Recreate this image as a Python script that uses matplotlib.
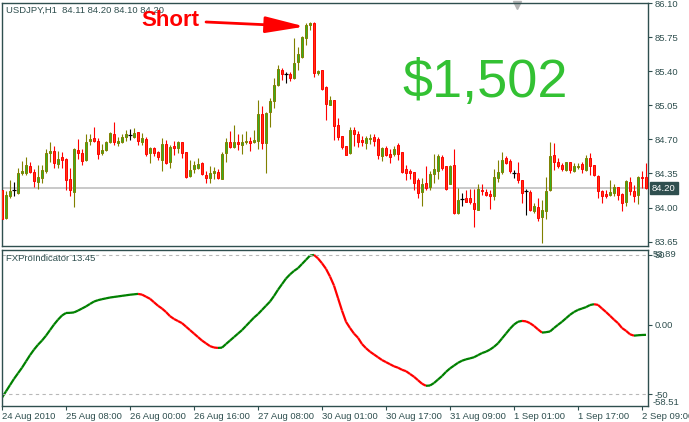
import matplotlib
matplotlib.use("Agg")
import matplotlib.pyplot as plt
import numpy as np
from matplotlib.collections import LineCollection

# USDJPY H1 candles
opens = [84.18, 83.89, 84.12, 84.18, 84.15, 84.36, 84.36, 84.43, 84.37, 84.26,
         84.30, 84.38, 84.56, 84.58, 84.45, 84.52, 84.50, 84.29, 84.16, 84.59,
         84.56, 84.49, 84.68, 84.71, 84.68, 84.56, 84.59, 84.67, 84.76, 84.66,
         84.67, 84.73, 84.75, 84.73, 84.78, 84.67, 84.70, 84.56, 84.61, 84.57,
         84.49, 84.65, 84.47, 84.63, 84.61, 84.67, 84.57, 84.32, 84.40, 84.41,
         84.46, 84.33, 84.30, 84.35, 84.37, 84.29, 84.56, 84.67, 84.62, 84.67,
         84.64, 84.67, 84.68, 84.67, 84.68, 84.96, 84.66, 84.98, 85.10, 85.26,
         85.41, 85.37, 85.37, 85.33, 85.50, 85.55, 85.74, 85.88, 85.90, 85.38,
         85.41, 85.24, 85.05, 85.11, 84.85, 84.74, 84.63, 84.56, 84.80, 84.76,
         84.69, 84.66, 84.70, 84.73, 84.70, 84.53, 84.61, 84.55, 84.55, 84.64,
         84.57, 84.40, 84.38, 84.37, 84.28, 84.16, 84.25, 84.21, 84.34, 84.38,
         84.52, 84.43, 84.24, 84.44, 83.94, 84.09, 84.10, 84.10, 84.05, 83.98,
         84.18, 84.16, 84.14, 84.12, 84.30, 84.37, 84.51, 84.48, 84.36, 84.36,
         84.28, 84.17, 84.16, 83.96, 84.01, 83.90, 83.96, 84.18, 84.54, 84.47,
         84.44, 84.39, 84.47, 84.38, 84.42, 84.45, 84.39, 84.51, 84.44, 84.32,
         84.17, 84.14, 84.13, 84.15, 84.21, 84.14, 84.06, 84.26, 84.17, 84.13,
         84.31, 84.31]
highs = [84.20, 84.17, 84.28, 84.26, 84.41, 84.48, 84.52, 84.47, 84.40, 84.44,
         84.44, 84.60, 84.67, 84.63, 84.58, 84.57, 84.51, 84.41, 84.61, 84.70,
         84.60, 84.76, 84.76, 84.83, 84.71, 84.65, 84.68, 84.78, 84.88, 84.73,
         84.76, 84.80, 84.81, 84.82, 84.78, 84.77, 84.73, 84.62, 84.62, 84.58,
         84.71, 84.69, 84.64, 84.68, 84.68, 84.67, 84.57, 84.49, 84.48, 84.51,
         84.47, 84.38, 84.43, 84.42, 84.40, 84.57, 84.71, 84.79, 84.85, 84.76,
         84.76, 84.79, 84.73, 84.80, 85.11, 85.04, 84.98, 85.13, 85.33, 85.46,
         85.43, 85.39, 85.39, 85.74, 85.65, 85.76, 85.90, 85.91, 85.91, 85.41,
         85.41, 85.25, 85.15, 85.11, 84.92, 84.74, 84.63, 84.83, 84.83, 84.79,
         84.74, 84.74, 84.76, 84.76, 84.72, 84.62, 84.63, 84.60, 84.63, 84.66,
         84.57, 84.44, 84.40, 84.37, 84.30, 84.30, 84.43, 84.38, 84.55, 84.55,
         84.54, 84.43, 84.44, 84.60, 84.20, 84.15, 84.18, 84.19, 84.19, 84.24,
         84.24, 84.19, 84.18, 84.40, 84.49, 84.57, 84.53, 84.50, 84.39, 84.47,
         84.28, 84.19, 84.18, 84.05, 84.10, 84.08, 84.31, 84.67, 84.66, 84.51,
         84.46, 84.47, 84.47, 84.46, 84.46, 84.47, 84.54, 84.56, 84.44, 84.33,
         84.18, 84.18, 84.28, 84.24, 84.21, 84.15, 84.28, 84.31, 84.23, 84.32,
         84.38, 84.46]
lows = [83.87, 83.88, 84.10, 84.12, 84.14, 84.33, 84.33, 84.36, 84.21, 84.19,
        84.25, 84.35, 84.47, 84.41, 84.41, 84.41, 84.18, 84.12, 84.01, 84.50,
        84.44, 84.48, 84.64, 84.67, 84.50, 84.54, 84.58, 84.66, 84.64, 84.63,
        84.66, 84.68, 84.69, 84.71, 84.64, 84.64, 84.53, 84.46, 84.53, 84.49,
        84.38, 84.45, 84.41, 84.54, 84.56, 84.51, 84.30, 84.31, 84.35, 84.40,
        84.33, 84.25, 84.25, 84.29, 84.29, 84.29, 84.47, 84.61, 84.61, 84.59,
        84.55, 84.65, 84.58, 84.66, 84.60, 84.60, 84.35, 84.83, 85.02, 85.25,
        85.31, 85.28, 85.30, 85.32, 85.41, 85.54, 85.67, 85.82, 85.34, 85.36,
        85.21, 84.90, 85.05, 84.69, 84.69, 84.60, 84.54, 84.55, 84.63, 84.62,
        84.63, 84.60, 84.65, 84.63, 84.50, 84.48, 84.53, 84.46, 84.53, 84.49,
        84.36, 84.28, 84.29, 84.18, 84.10, 84.02, 84.18, 84.18, 84.25, 84.29,
        84.39, 84.18, 84.24, 83.93, 83.93, 84.02, 84.06, 84.04, 83.80, 83.98,
        84.13, 84.12, 83.99, 84.08, 84.26, 84.34, 84.45, 84.35, 84.30, 84.25,
        84.05, 83.92, 83.96, 83.94, 83.86, 83.64, 83.88, 84.17, 84.39, 84.41,
        84.38, 84.38, 84.36, 84.37, 84.40, 84.36, 84.38, 84.33, 84.32, 84.10,
        84.05, 84.10, 84.12, 84.12, 84.08, 83.96, 84.02, 84.13, 84.06, 84.04,
        84.20, 84.19]
closes = [83.88, 84.13, 84.17, 84.18, 84.36, 84.38, 84.44, 84.37, 84.27, 84.31,
          84.39, 84.56, 84.58, 84.46, 84.50, 84.49, 84.28, 84.18, 84.60, 84.56,
          84.48, 84.67, 84.70, 84.68, 84.55, 84.59, 84.67, 84.77, 84.67, 84.68,
          84.73, 84.76, 84.75, 84.77, 84.68, 84.71, 84.55, 84.61, 84.56, 84.52,
          84.65, 84.46, 84.62, 84.61, 84.67, 84.56, 84.31, 84.39, 84.44, 84.45,
          84.34, 84.30, 84.35, 84.38, 84.30, 84.55, 84.67, 84.62, 84.67, 84.65,
          84.67, 84.68, 84.66, 84.69, 84.96, 84.66, 84.97, 85.10, 85.26, 85.42,
          85.37, 85.37, 85.33, 85.49, 85.58, 85.75, 85.88, 85.90, 85.38, 85.40,
          85.22, 85.06, 85.11, 84.84, 84.72, 84.62, 84.54, 84.80, 84.76, 84.67,
          84.67, 84.71, 84.71, 84.68, 84.54, 84.61, 84.54, 84.52, 84.60, 84.55,
          84.37, 84.36, 84.36, 84.25, 84.15, 84.24, 84.20, 84.34, 84.40, 84.53,
          84.41, 84.19, 84.43, 83.94, 84.08, 84.09, 84.06, 84.06, 83.99, 84.19,
          84.17, 84.13, 84.12, 84.31, 84.37, 84.49, 84.46, 84.38, 84.36, 84.28,
          84.15, 84.17, 83.97, 84.02, 83.89, 83.98, 84.17, 84.53, 84.47, 84.43,
          84.40, 84.47, 84.39, 84.43, 84.43, 84.40, 84.51, 84.43, 84.33, 84.17,
          84.12, 84.12, 84.16, 84.21, 84.13, 84.05, 84.27, 84.17, 84.12, 84.31,
          84.30, 84.20]

# FXProIndicator, one value per bar
indicator = [-52.5, -48, -43.5, -39, -35, -31, -26.5, -22, -18, -14.5,
             -11.5, -8, -4, 0, 3.5, 6.5, 8.3, 8.4, 8.7, 10,
             11.5, 13, 14.8, 16.5, 17.5, 18.2, 18.8, 19.4, 19.8, 20.2,
             20.6, 21, 21.4, 21.7, 22, 21.5, 20, 18.5, 16, 13.5,
             11.5, 9, 6, 4, 2.5, 1, -1.5, -4, -6.5, -9,
             -11.5, -13.5, -15.5, -16.5, -16.8, -16.6, -14, -11.5, -9, -6.5,
             -4, -1, 2, 5, 7.5, 10.5, 13.5, 16.5, 20.5, 25,
             29, 33, 36, 38.5, 40.5, 43.5, 46.5, 49.5, 50, 47.5,
             44, 40, 34.5, 28, 19, 10, 2, -2.5, -6.5, -9.5,
             -14, -17, -19.5, -21.5, -23.5, -25.5, -27, -28.5, -30, -31,
             -32.5, -33.5, -35.5, -37.5, -40, -42.5, -44, -43.8, -42, -39.5,
             -37, -34, -31.5, -29.5, -27.5, -26, -25, -24.3, -23.5, -22,
             -20.5, -19.5, -18, -16, -13.5, -10, -6.5, -3, 0, 2,
             2.6, 2.3, 1, -1, -3.5, -5.8, -5.5, -5, -2.5, -0.2,
             2, 4.5, 7, 9, 10.5, 11.5, 12.5, 14, 14.6, 14.1,
             11.5, 9, 6.3, 3.5, 1, -2.5, -4.5, -7, -8, -7.7,
             -7.5, -7.4]

date_labels = ["24 Aug 2010", "25 Aug 08:00", "26 Aug 00:00", "26 Aug 16:00",
               "27 Aug 08:00", "30 Aug 01:00", "30 Aug 17:00", "31 Aug 09:00",
               "1 Sep 01:00", "1 Sep 17:00", "2 Sep 09:00"]
price_ticks = [86.10, 85.75, 85.40, 85.05, 84.70, 84.35, 84.00, 83.65]
header_ohlc = [84.11, 84.20, 84.10, 84.20]
bid = 84.20
profit_text = "$1,502"

frame = "#2f4f4f"
olive = "#808000"
green_fill = "#36b022"
red_fill = "#ff3512"
font = "Liberation Sans"
fs = 6.8

o = np.array(opens)
h = np.array(highs)
l = np.array(lows)
c = np.array(closes)
idx = np.arange(len(c))
up = c > o
dn = c < o
dj = c == o

W, H = 689, 422
fig = plt.figure(figsize=(W / 100, H / 100), dpi=100)
ax = fig.add_axes([1.5 / W, 1 - 246 / H, 646 / W, 243 / H])
ax2 = fig.add_axes([1.5 / W, 16 / H, 646 / W, 156.5 / H])

for a in (ax, ax2):
    a.set_xlim(-0.125, 161.375)
    for s in a.spines.values():
        s.set_color(frame)
        s.set_linewidth(1.0)

# price panel
ax.axhline(bid, color="#c0c0c0", lw=1.2, zorder=1)
ax.vlines(idx[up], l[up], h[up], color=olive, lw=0.8, zorder=2)
ax.vlines(idx[dn], l[dn], h[dn], color="#ff0000", lw=0.8, zorder=2)
ax.vlines(idx[dj], l[dj], h[dj], color="black", lw=0.8, zorder=2)
ax.bar(idx[up], c[up] - o[up], bottom=o[up], width=0.55, color=green_fill,
       edgecolor=olive, linewidth=0.7, zorder=3)
ax.bar(idx[dn], o[dn] - c[dn], bottom=c[dn], width=0.55, color=red_fill,
       edgecolor="#ff0000", linewidth=0.7, zorder=3)
ax.hlines(c[dj], idx[dj] - 0.4, idx[dj] + 0.4, color="black", lw=0.9, zorder=3)

ax.set_ylim(83.605, 86.102)
ax.yaxis.tick_right()
ax.set_yticks(price_ticks)
ax.set_yticklabels(["%.2f" % p for p in price_ticks])
ax.tick_params(axis="y", length=3, width=0.8, pad=2, colors=frame,
               labelsize=fs, labelfontfamily=font)
ax.set_xticks([])

ax.text(1.007, bid, "%.2f" % bid, transform=ax.get_yaxis_transform(),
        ha="left", va="center", color="white", fontsize=fs, family=font,
        bbox=dict(boxstyle="square,pad=0.2", fc=frame, ec=frame))

header = "USDJPY,H1  " + " ".join("%.2f" % v for v in header_ohlc)
ax.text(0.007, 0.971, header, transform=ax.transAxes, ha="left",
        va="center", color=frame, fontsize=fs, family=font)

ax.text(0.748, 0.671, profit_text, transform=ax.transAxes, ha="center",
        va="center", color="#33c133", fontsize=39, family=font)

peak = int(np.argmax(h))
ax.text(0.216, 0.926, "Short", transform=ax.transAxes, ha="left",
        va="center", color="#ff0000", fontsize=16, fontweight="bold",
        family=font)
ax.annotate("", xy=(peak - 1.3, h[peak] - 0.05), xycoords="data",
            xytext=(0.3166, 0.9218), textcoords="axes fraction",
            arrowprops=dict(arrowstyle="-|>,head_length=2.4,head_width=0.5",
                            color="#ff0000", lw=2, mutation_scale=10,
                            shrinkA=0, shrinkB=0))

# chart shift marker
ax.plot([0.798], [0.993], marker="v", color="#b4b4b4", markersize=6,
        transform=ax.transAxes, clip_on=False)

# indicator panel
vals = np.array(indicator, dtype=float)
pts = np.column_stack([idx, vals])
segs = np.stack([pts[:-1], pts[1:]], axis=1)
cols = np.where(np.diff(vals) >= 0, "#008000", "#ff0000")
ax2.add_collection(LineCollection(segs, colors=cols, linewidths=1.6))
for lev in (50, -50):
    ax2.axhline(lev, color="#b8b8b8", lw=0.8, ls=(0, (3, 3)))
ax2.set_ylim(-58.51, 53.89)
ax2.yaxis.tick_right()
ax2.set_yticks([50, 0, -50])
ax2.set_yticklabels(["50", "0.00", "-50"])
ax2.tick_params(axis="y", length=3, width=0.8, pad=2, colors=frame,
                labelsize=fs, labelfontfamily=font)
ax2.text(1.0085, 50, "53.89", transform=ax2.get_yaxis_transform(),
         ha="left", va="center", color=frame, fontsize=fs, family=font)
ax2.annotate("-58.51", xy=(1.0, -50), xycoords=("axes fraction", "data"),
             xytext=(4, -6), textcoords="offset points", ha="left",
             va="center", color=frame, fontsize=fs, family=font)
ax2.text(0.007, 0.94, "FXProIndicator 13.45", transform=ax2.transAxes,
         ha="left", va="center", color=frame, fontsize=fs, family=font)

ax2.set_xticks(np.arange(len(date_labels)) * 16)
ax2.set_xticklabels(date_labels)
ax2.tick_params(axis="x", length=3, width=0.8, pad=1, colors=frame,
                labelsize=fs, labelfontfamily=font)
for t in ax2.get_xticklabels():
    t.set_ha("left")

fig.savefig("out.png", dpi=100, facecolor="white")
